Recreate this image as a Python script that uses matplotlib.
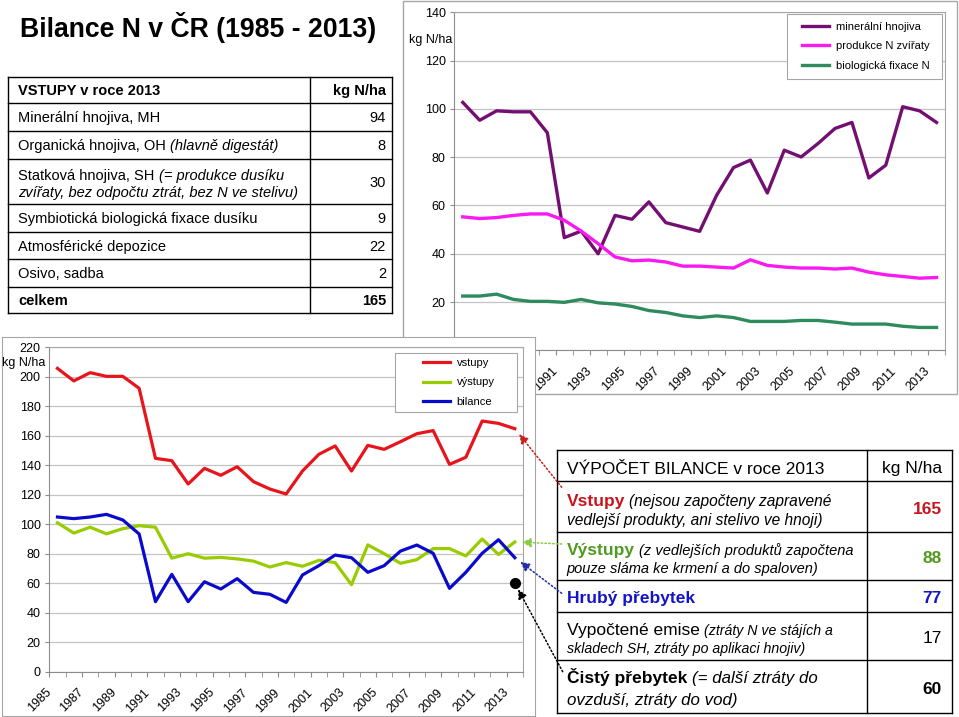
import numpy as np
import matplotlib
matplotlib.use("Agg")
import matplotlib.pyplot as plt
from matplotlib.lines import Line2D
from matplotlib.legend_handler import HandlerLine2D

plt.rcParams['font.family'] = ['Liberation Sans', 'DejaVu Sans']

# ---------------- data ----------------
years = list(range(1985, 2014))
mineral = [102.7, 95.3, 99.2, 98.8, 98.8, 90.1, 46.7, 49.4, 40.0, 55.9, 54.3, 61.5, 52.9, 51.1, 49.3,
           64.2, 75.7, 78.8, 65.2, 82.9, 80.1, 85.7, 91.9, 94.4, 71.4, 76.7, 100.9, 99.2, 94.4]
animal = [55.3, 54.6, 55.0, 55.9, 56.5, 56.5, 53.9, 49.4, 44.2, 38.7, 37.1, 37.4, 36.6, 34.9, 34.9,
          34.5, 34.1, 37.5, 35.2, 34.5, 34.1, 34.1, 33.7, 34.1, 32.4, 31.3, 30.6, 29.9, 30.2]
fixation = [22.5, 22.5, 23.3, 21.1, 20.3, 20.3, 19.9, 21.1, 19.7, 19.2, 18.2, 16.5, 15.7, 14.3, 13.6,
            14.3, 13.6, 12.0, 12.0, 12.0, 12.4, 12.4, 11.7, 10.9, 10.9, 10.9, 10.0, 9.5, 9.5]
top_labels = ['minerální hnojiva', 'produkce N zvířaty', 'biologická fixace N']

inputs = [205.7, 197.2, 202.8, 200.3, 200.3, 192.2, 144.7, 143.1, 127.3, 137.9, 133.2, 139.0, 128.9, 123.9,
          120.5, 136.1, 147.4, 153.1, 136.1, 153.5, 150.8, 156.0, 161.4, 163.5, 140.6, 145.4, 170.0, 168.4, 164.8]
outputs = [101, 94, 98, 93.5, 97, 99, 98, 77, 80, 77, 77.5, 76.5, 75, 71, 74, 71.5, 75.5, 74, 59, 86,
           80, 73.5, 76, 83.5, 83.5, 78.5, 90, 79.5, 88]
balance = [104.9, 103.8, 104.9, 106.7, 102.9, 93.4, 47.5, 66.0, 47.5, 61.0, 56.1, 63.1, 53.8, 52.5, 47.0,
           65.6, 71.9, 79.1, 77.3, 67.4, 71.9, 81.8, 85.9, 80.3, 56.5, 67.4, 80.3, 89.5, 77.3]
net_surplus_2013 = 60
bottom_labels = ['vstupy', 'výstupy', 'bilance']

title = 'Bilance N v ČR (1985 - 2013)'
t1_header = ('VSTUPY v roce 2013', 'kg N/ha')
t1_rows = ['Minerální hnojiva, MH', 'Organická hnojiva, OH', 'Statková hnojiva, SH',
           'Symbiotická biologická fixace dusíku', 'Atmosférické depozice', 'Osivo, sadba']
t1_values = ['94', '8', '30', '9', '22', '2']
t1_total = ('celkem', '165')

# ---------------- layout helpers ----------------
W, H = 959, 717
fig = plt.figure(figsize=(W / 100, H / 100), dpi=100)
fig.patch.set_facecolor('white')


def rect(x0, y0, x1, y1):
    return [x0 / W, 1 - y1 / H, (x1 - x0) / W, (y1 - y0) / H]


def pix_axes(zorder=0):
    a = fig.add_axes([0, 0, 1, 1], zorder=zorder)
    a.set_xlim(0, W)
    a.set_ylim(H, 0)
    a.axis('off')
    a.patch.set_alpha(0)
    return a


C_MIN = '#740F72'
C_ANI = '#F81AEE'
C_FIX = '#2E8B5E'
C_IN = '#E8141B'
C_OUT = '#99CC00'
C_BAL = '#0A0ACC'
GRID = '#C4C4C4'
SPINE = '#8C8C8C'
FRAME = '#A6A6A6'

x = np.arange(len(years))

# ---------------- background (title, table 1, top frame) ----------------
bg = pix_axes(zorder=0)
bg.add_patch(plt.Rectangle((403, 1), 554, 393, fill=False, ec=FRAME, lw=1.0))
bg.text(19.5, 37.3, title, fontsize=19.2, fontweight='bold', va='baseline', ha='left')

t1_x = [8.3, 310, 391.7]
t1_y = [76.7, 103.3, 131, 159, 204, 231.7, 259, 286.7, 313.3]
for yy in t1_y:
    bg.plot([t1_x[0], t1_x[2]], [yy, yy], color='black', lw=1.0)
for xx in t1_x:
    bg.plot([xx, xx], [t1_y[0], t1_y[-1]], color='black', lw=1.0)

renderer = fig.canvas.get_renderer()


def rich(ax, x0, y, parts):
    cx = x0
    for txt, kw, gap in parts:
        size = kw.get('fontsize', 10)
        cx += gap * size * 100 / 72
        t = ax.text(cx, y, txt, va='baseline', ha='left', **kw)
        bb = t.get_window_extent(renderer=renderer)
        cx += bb.width


FS1 = 10.5
bg.text(18.3, (t1_y[0] + t1_y[1]) / 2 + 5.3, t1_header[0], fontsize=FS1, fontweight='bold', va='baseline')
bg.text(386, (t1_y[0] + t1_y[1]) / 2 + 5.3, t1_header[1], fontsize=FS1, fontweight='bold', va='baseline', ha='right')
notes = {1: '(hlavně digestát)'}
for i, (lab, val) in enumerate(zip(t1_rows, t1_values)):
    y0, y1 = t1_y[i + 1], t1_y[i + 2]
    mid = (y0 + y1) / 2
    if i == 2:
        rich(bg, 18.3, 180, [(lab, dict(fontsize=FS1), 0),
                             ('(= produkce dusíku', dict(fontsize=FS1, style='italic'), 0.28)])
        bg.text(18.3, 196.7, 'zvířaty, bez odpočtu ztrát, bez N ve stelivu)', fontsize=FS1, style='italic', va='baseline')
    elif i in notes:
        rich(bg, 18.3, mid + 5.3, [(lab, dict(fontsize=FS1), 0),
                                   (notes[i], dict(fontsize=FS1, style='italic'), 0.28)])
    else:
        bg.text(18.3, mid + 5.3, lab, fontsize=FS1, va='baseline')
    bg.text(386, mid + 5.3, val, fontsize=FS1, va='baseline', ha='right')
mid = (t1_y[-2] + t1_y[-1]) / 2
bg.text(18.3, mid + 5.3, t1_total[0], fontsize=FS1, fontweight='bold', va='baseline')
bg.text(386, mid + 5.3, t1_total[1], fontsize=FS1, fontweight='bold', va='baseline', ha='right')


# ---------------- chart styling helper ----------------
def style_axes(ax, ymax, ystep):
    ax.set_xlim(-0.5, len(years) - 0.5)
    ax.set_ylim(0, ymax)
    ax.set_yticks(np.arange(0, ymax + 1, ystep))
    ax.yaxis.grid(True, color=GRID, lw=0.9)
    ax.set_axisbelow(True)
    for s in ['left', 'bottom']:
        ax.spines[s].set_color(SPINE)
    for s in ['top', 'right']:
        ax.spines[s].set_color(FRAME)
    ax.tick_params(axis='y', length=3.2, pad=3, labelsize=9, color=SPINE)
    major = np.arange(0, len(years), 2) - 0.5
    ax.set_xticks(major)
    ax.set_xticklabels([str(years[i]) for i in range(0, len(years), 2)], rotation=45,
                       ha='right', va='center', rotation_mode='anchor', fontsize=9)
    ax.set_xticks(np.arange(-0.5, len(years), 1), minor=True)
    ax.tick_params(axis='x', which='both', length=3.6, color=SPINE)
    ax.tick_params(axis='x', which='major', pad=10)


def make_legend(ax, x0, y0, w, h, xpad, handlelen, bpad, lspace):
    leg = ax.legend(loc='upper left', bbox_to_anchor=(x0 / W, 1 - (y0 + h) / H, w / W, h / H),
                    bbox_transform=fig.transFigure, mode='expand',
                    fancybox=False, edgecolor=FRAME, fontsize=8, handlelength=handlelen,
                    handletextpad=0.63, labelspacing=lspace, borderpad=bpad, borderaxespad=0,
                    framealpha=1, handler_map={Line2D: HandlerLine2D(xpad=xpad)})
    leg.get_frame().set_linewidth(0.8)
    return leg


# ---------------- top chart ----------------
ax_t = fig.add_axes(rect(454.3, 12.3, 945, 350.4), zorder=1)
style_axes(ax_t, 140, 20)
ax_t.plot(x, mineral, color=C_MIN, lw=2.4, label=top_labels[0])
ax_t.plot(x, animal, color=C_ANI, lw=2.4, label=top_labels[1])
ax_t.plot(x, fixation, color=C_FIX, lw=2.4, label=top_labels[2])
make_legend(ax_t, 787, 14, 155, 63, xpad=0.6, handlelen=3.1, bpad=0.72, lspace=0.84)

# ---------------- bottom frame ----------------
fr = fig.add_axes(rect(2, 337, 535, 716), zorder=2)
fr.set_xticks([])
fr.set_yticks([])
for s in fr.spines.values():
    s.set_color(FRAME)
fr.set_facecolor('white')

# ---------------- bottom chart ----------------
ax_b = fig.add_axes(rect(49.3, 347.3, 523, 671.7), zorder=3)
style_axes(ax_b, 220, 20)
ax_b.plot(x, inputs, color=C_IN, lw=2.3, label=bottom_labels[0])
ax_b.plot(x, outputs, color=C_OUT, lw=2.3, label=bottom_labels[1])
ax_b.plot(x, balance, color=C_BAL, lw=2.3, label=bottom_labels[2])
ax_b.plot([x[-1]], [net_surplus_2013], 'o', color='black', ms=7, clip_on=False)
make_legend(ax_b, 395, 353, 122, 60, xpad=2.07, handlelen=4.5, bpad=0.43, lspace=0.87)

# ---------------- overlay: units, table 2, arrows ----------------
ov = pix_axes(zorder=4)
ov.text(430.3, 40, 'kg N/ha', fontsize=9, ha='center', va='center')
ov.text(24, 363.3, 'kg N/ha', fontsize=9, ha='center', va='center')

t2_x = [556.7, 866.7, 952.3]
t2_y = [450, 481, 531.7, 580, 611.7, 660, 713.3]
for yy in t2_y:
    ov.plot([t2_x[0], t2_x[2]], [yy, yy], color='black', lw=1.0)
for xx in t2_x:
    ov.plot([xx, xx], [t2_y[0], t2_y[-1]], color='black', lw=1.0)

R_T, G_T, B_T = '#C8141C', '#4F9A1F', '#1414C8'
LX = 566.7
VX = 941.7
FB = 12.5
ov.text(LX, 473.5, 'VÝPOČET BILANCE v roce 2013', fontsize=FB, va='baseline')
ov.text(VX, 473.5, 'kg N/ha', fontsize=FB, va='baseline', ha='right')

rich(ov, LX, 506, [('Vstupy', dict(fontsize=FB, fontweight='bold', color=R_T), 0),
                   ('(nejsou započteny zapravené', dict(fontsize=11.2, style='italic'), 0.28)])
ov.text(LX, 525.5, 'vedlejší produkty, ani stelivo ve hnoji)', fontsize=11.2, style='italic', va='baseline')
ov.text(VX, 514.5, '165', fontsize=FB, fontweight='bold', color=R_T, va='baseline', ha='right')

rich(ov, LX, 554.5, [('Výstupy', dict(fontsize=FB, fontweight='bold', color=G_T), 0),
                     ('(z vedlejších produktů započtena', dict(fontsize=10.5, style='italic'), 0.28)])
ov.text(LX, 572.5, 'pouze sláma ke krmení a do spaloven)', fontsize=10.5, style='italic', va='baseline')
ov.text(VX, 563, '88', fontsize=FB, fontweight='bold', color=G_T, va='baseline', ha='right')

ov.text(LX, 603, 'Hrubý přebytek', fontsize=FB, fontweight='bold', color=B_T, va='baseline')
ov.text(VX, 603, '77', fontsize=FB, fontweight='bold', color=B_T, va='baseline', ha='right')

rich(ov, LX, 634.5, [('Vypočtené emise', dict(fontsize=FB), 0),
                     ('(ztráty N ve stájích a', dict(fontsize=10.2, style='italic'), 0.28)])
ov.text(LX, 652.5, 'skladech SH, ztráty po aplikaci hnojiv)', fontsize=10.2, style='italic', va='baseline')
ov.text(VX, 643, '17', fontsize=FB, va='baseline', ha='right')

rich(ov, LX, 683, [('Čistý přebytek', dict(fontsize=FB, fontweight='bold'), 0),
                   ('(= další ztráty do', dict(fontsize=12.2, style='italic'), 0.28)])
ov.text(LX, 704.5, 'ovzduší, ztráty do vod)', fontsize=12.2, style='italic', va='baseline')
ov.text(VX, 694.5, '60', fontsize=FB, fontweight='bold', va='baseline', ha='right')

arrows = [(inputs[-1], (561.7, 487.3), '#C82020'),
          (outputs[-1], (561.7, 544), '#88CC44'),
          (balance[-1], (561.7, 593.3), '#2030A8'),
          (net_surplus_2013, (562.7, 671.7), '#000000')]
for val, start, col in arrows:
    ov.annotate('', xy=(x[-1], val), xycoords=ax_b.transData, xytext=start, textcoords='data',
                arrowprops=dict(arrowstyle='-|>,head_length=0.55,head_width=0.28', color=col, lw=1.1,
                                linestyle=(0, (1, 1.5)), shrinkA=0, shrinkB=5))

fig.savefig('out.png', dpi=100, facecolor='white')
